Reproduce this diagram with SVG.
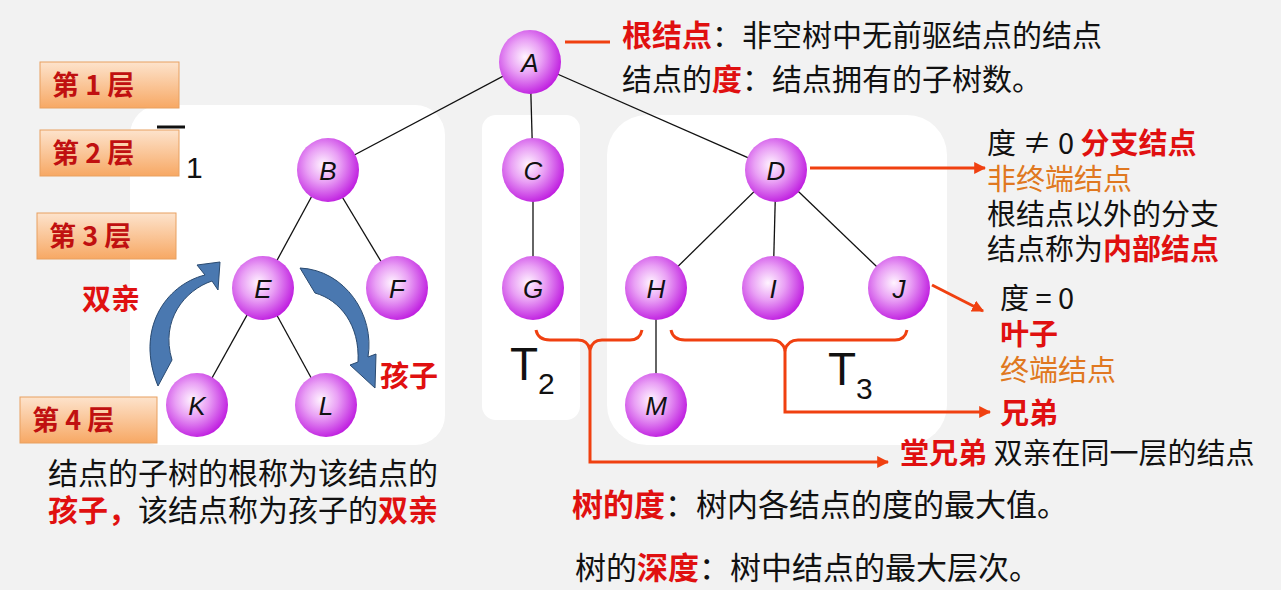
<svg xmlns="http://www.w3.org/2000/svg" width="1281" height="590" viewBox="0 0 1281 590">
<defs>
<radialGradient id="ng" cx="0.42" cy="0.42" r="0.6"><stop offset="0" stop-color="#fff4ff"/><stop offset="0.45" stop-color="#e9a0f5"/><stop offset="1" stop-color="#c020e0"/></radialGradient>
<linearGradient id="lg" x1="0" y1="0" x2="0" y2="1"><stop offset="0" stop-color="#fde3cc"/><stop offset="1" stop-color="#f7a864"/></linearGradient>
<marker id="ar" viewBox="0 0 10 10" refX="9" refY="5" markerWidth="4" markerHeight="4" orient="auto"><path d="M0,0L10,5L0,10z" fill="#f04010"/></marker>
</defs>
<style>
.n ellipse{fill:url(#ng)}
.n text{font:italic 26px "Liberation Sans",sans-serif;text-anchor:middle;fill:#111}
.e line{stroke:#111;stroke-width:1.3}
.lay rect{fill:url(#lg);stroke:#e8a060;stroke-width:1}
.lay text{font:bold 27px "Noto Sans CJK SC",sans-serif;fill:#c01010}
.t{font-family:"Noto Sans CJK SC",sans-serif;font-size:29px;fill:#111}
.b{font-size:31px}
.w{font-size:30px}
.r{fill:#e01010;font-weight:bold}
.o{fill:#e07820}
.rc{fill:none;stroke:#f04010;stroke-width:3}
.panel{fill:#fff}
</style>
<rect width="1281" height="590" fill="#f2f2f2"/>
<rect class="panel" x="130" y="105" width="315" height="340" rx="30"/>
<rect class="panel" x="482" y="115" width="98" height="305" rx="14"/>
<rect class="panel" x="607" y="115" width="340" height="330" rx="40"/>
<g id="layers" class="lay">
<rect x="40" y="62" width="139" height="46"/><text x="52" y="95">第 1 层</text>
<rect x="40" y="130" width="139" height="46"/><text x="52" y="163">第 2 层</text>
<rect x="37" y="213" width="139" height="46"/><text x="49" y="246">第 3 层</text>
<rect x="20" y="397" width="137" height="46"/><text x="32" y="430">第 4 层</text>
</g>
<line x1="157" y1="127" x2="185" y2="127" stroke="#111" stroke-width="3"/>
<text x="186" y="178" font-family="Liberation Sans,sans-serif" font-size="30" fill="#111">1</text>
<text x="510" y="380" font-family="Liberation Sans,sans-serif" font-size="46" fill="#111">T<tspan font-size="30" dy="14">2</tspan></text>
<text x="828" y="385" font-family="Liberation Sans,sans-serif" font-size="46" fill="#111">T<tspan font-size="30" dy="14">3</tspan></text>
<g id="connectors" class="e">
<line x1="530" y1="62" x2="326" y2="170"/><line x1="530" y1="62" x2="533" y2="170"/><line x1="530" y1="62" x2="776" y2="170"/>
<line x1="326" y1="170" x2="262" y2="288"/><line x1="326" y1="170" x2="397" y2="288"/>
<line x1="533" y1="170" x2="533" y2="288"/>
<line x1="776" y1="170" x2="656" y2="288"/><line x1="776" y1="170" x2="773" y2="288"/><line x1="776" y1="170" x2="899" y2="288"/>
<line x1="262" y1="288" x2="197" y2="405"/><line x1="262" y1="288" x2="326" y2="405"/>
<line x1="656" y1="288" x2="656" y2="405"/>
</g>
<g id="nA" class="n"><ellipse cx="530" cy="62" rx="31" ry="32"/><text x="530" y="72">A</text></g>
<g id="nB" class="n"><ellipse cx="328" cy="170" rx="31" ry="32"/><text x="328" y="180">B</text></g>
<g id="nC" class="n"><ellipse cx="533" cy="170" rx="31" ry="32"/><text x="533" y="180">C</text></g>
<g id="nD" class="n"><ellipse cx="776" cy="170" rx="31" ry="32"/><text x="776" y="180">D</text></g>
<g id="nE" class="n"><ellipse cx="263" cy="288" rx="31" ry="32"/><text x="263" y="298">E</text></g>
<g id="nF" class="n"><ellipse cx="397" cy="288" rx="31" ry="32"/><text x="397" y="298">F</text></g>
<g id="nG" class="n"><ellipse cx="533" cy="288" rx="31" ry="32"/><text x="533" y="298">G</text></g>
<g id="nH" class="n"><ellipse cx="656" cy="288" rx="31" ry="32"/><text x="656" y="298">H</text></g>
<g id="nI" class="n"><ellipse cx="773" cy="288" rx="31" ry="32"/><text x="773" y="298">I</text></g>
<g id="nJ" class="n"><ellipse cx="899" cy="288" rx="31" ry="32"/><text x="899" y="298">J</text></g>
<g id="nK" class="n"><ellipse cx="197" cy="405" rx="31" ry="32"/><text x="197" y="415">K</text></g>
<g id="nL" class="n"><ellipse cx="326" cy="405" rx="31" ry="32"/><text x="326" y="415">L</text></g>
<g id="nM" class="n"><ellipse cx="656" cy="405" rx="31" ry="32"/><text x="656" y="415">M</text></g>
<g id="curves" fill="#4a78b0" stroke="#2a4a70" stroke-width="1">
<path d="M158,386 C135,330 165,285 205,275 L197,265 L220,262 L218,290 L212,281 C185,290 160,320 172,360 Z"/>
<path d="M300,268 C345,270 375,315 368,357 L376,354 L375,388 L350,365 L358,362 C360,325 340,300 315,293 Z"/>
</g>
<text class="t r" x="82" y="310">双亲</text>
<text class="t r" x="380" y="387">孩子</text>
<text class="t w" x="48" y="484">结点的子树的根称为该结点的</text>
<text class="t w" x="48" y="521"><tspan class="r">孩子，</tspan>该结点称为孩子的<tspan class="r">双亲</tspan></text>
<g id="annot">
<line x1="565" y1="42" x2="610" y2="42" class="rc"/>
<text class="t w" x="622" y="46"><tspan class="r">根结点</tspan>：非空树中无前驱结点的结点</text>
<text class="t w" x="622" y="90">结点的<tspan class="r">度</tspan>：结点拥有的子树数。</text>
<line x1="810" y1="168" x2="985" y2="168" class="rc" marker-end="url(#ar)"/>
<text class="t" x="987" y="154">度 ≠ 0 <tspan class="r">分支结点</tspan></text>
<text class="t o" x="987" y="190">非终端结点</text>
<text class="t" x="987" y="225">根结点以外的分支</text>
<text class="t" x="987" y="260">结点称为<tspan class="r">内部结点</tspan></text>
<line x1="932" y1="285" x2="983" y2="311" class="rc" marker-end="url(#ar)"/>
<text class="t" x="1000" y="309">度 = 0</text>
<text class="t r" x="1000" y="345">叶子</text>
<text class="t o" x="1000" y="381">终端结点</text>
<text class="t r" x="1000" y="424">兄弟</text>
<text class="t" x="900" y="464"><tspan class="r">堂兄弟</tspan> 双亲在同一层的结点</text>
<path class="rc" d="M536,330 Q538,340 550,340 L578,340 Q588,340 590,350 Q592,340 602,340 L630,340 Q640,340 642,330"/>
<path class="rc" d="M590,350 L590,462 L888,462" marker-end="url(#ar)"/>
<path class="rc" d="M671,330 Q673,340 685,340 L772,340 Q782,340 785,350 Q788,340 798,340 L895,340 Q905,340 907,330"/>
<path class="rc" d="M785,350 L785,412 L990,412" marker-end="url(#ar)"/>
<text class="t b" x="572" y="516"><tspan class="r">树的度</tspan>：树内各结点的度的最大值。</text>
<text class="t b" x="575" y="579">树的<tspan class="r">深度</tspan>：树中结点的最大层次。</text>
</g>
</svg>
